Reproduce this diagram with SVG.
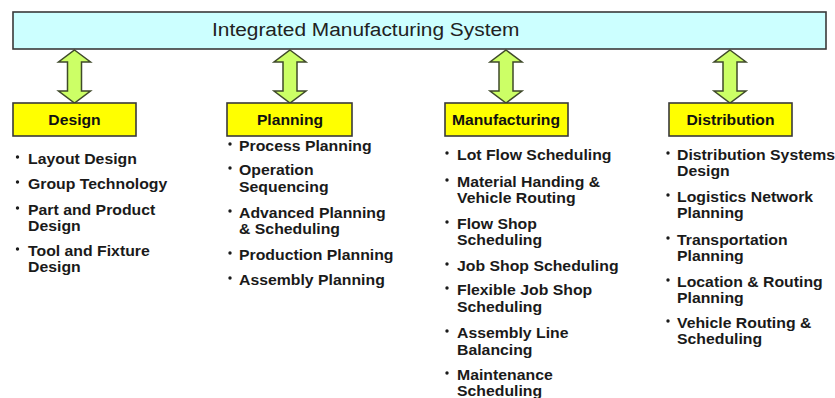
<svg xmlns="http://www.w3.org/2000/svg" width="835" height="398" viewBox="0 0 835 398">
<style>
.bg{fill:#ffffff}
.top{fill:#ccffff;stroke:#3a3a3a;stroke-width:1.6}
.cat{fill:#ffff00;stroke:#3a3a3a;stroke-width:1.6}
.arr{fill:#ccff66;stroke:#3f4a2a;stroke-width:1.5;stroke-linejoin:miter}
.title{font-family:"Liberation Sans",Arial,sans-serif;font-size:18px;fill:#222}
.lbl{font-family:"Liberation Sans",Arial,sans-serif;font-size:14px;font-weight:bold;fill:#111;text-anchor:middle}
.it{font-family:"Liberation Sans",Arial,sans-serif;font-size:14px;font-weight:bold;fill:#1a1a1a}
.bul{fill:#1a1a1a}
</style>
<defs>
<path id="dbl" d="M0,50 L16,62 L7,62 L7,91 L16,91 L0,103 L-16,91 L-7,91 L-7,62 L-16,62 Z"/>
</defs>
<rect class="bg" x="0" y="0" width="835" height="398"/>

<g id="ims">
<rect class="top" x="13" y="12" width="813" height="37"/>
<g transform="translate(212,0) scale(1.16,1)"><text class="title" x="0" y="36.5">Integrated Manufacturing System</text></g>
</g>

<g id="connectors">
<use href="#dbl" class="arr" transform="translate(74.5,0)"/>
<use href="#dbl" class="arr" transform="translate(290,0)"/>
<use href="#dbl" class="arr" transform="translate(506,0)"/>
<use href="#dbl" class="arr" transform="translate(730,0)"/>
</g>

<g id="design">
<rect class="cat" x="13" y="103" width="123" height="33"/>
<g transform="translate(74.5,0) scale(1.12,1)"><text class="lbl" x="0" y="125">Design</text></g>
<g class="bul">
<circle cx="17.5" cy="157" r="1.7"/><circle cx="17.5" cy="182" r="1.7"/><circle cx="17.5" cy="208" r="1.7"/><circle cx="17.5" cy="249" r="1.7"/>
</g>
<g transform="translate(28,0) scale(1.13,1)">
<text class="it" x="0" y="164">Layout Design</text>
<text class="it" x="0" y="189">Group Technology</text>
<text class="it" x="0" y="215">Part and Product</text>
<text class="it" x="0" y="231">Design</text>
<text class="it" x="0" y="256">Tool and Fixture</text>
<text class="it" x="0" y="272">Design</text>
</g>
</g>

<g id="planning">
<rect class="cat" x="227" y="103" width="125" height="33"/>
<g transform="translate(290,0) scale(1.12,1)"><text class="lbl" x="0" y="125">Planning</text></g>
<g class="bul">
<circle cx="230" cy="144" r="1.7"/><circle cx="230" cy="168" r="1.7"/><circle cx="230" cy="211" r="1.7"/><circle cx="230" cy="253" r="1.7"/><circle cx="230" cy="278" r="1.7"/>
</g>
<g transform="translate(239,0) scale(1.13,1)">
<text class="it" x="0" y="151">Process Planning</text>
<text class="it" x="0" y="175">Operation</text>
<text class="it" x="0" y="192">Sequencing</text>
<text class="it" x="0" y="218">Advanced Planning</text>
<text class="it" x="0" y="234">&amp; Scheduling</text>
<text class="it" x="0" y="260">Production Planning</text>
<text class="it" x="0" y="285">Assembly Planning</text>
</g>
</g>

<g id="manufacturing">
<rect class="cat" x="445" y="103" width="123" height="33"/>
<g transform="translate(506,0) scale(1.12,1)"><text class="lbl" x="0" y="125">Manufacturing</text></g>
<g class="bul">
<circle cx="447" cy="153" r="1.7"/><circle cx="447" cy="180" r="1.7"/><circle cx="447" cy="222" r="1.7"/><circle cx="447" cy="264" r="1.7"/><circle cx="447" cy="288" r="1.7"/><circle cx="447" cy="331" r="1.7"/><circle cx="447" cy="373" r="1.7"/>
</g>
<g transform="translate(457,0) scale(1.13,1)">
<text class="it" x="0" y="160">Lot Flow Scheduling</text>
<text class="it" x="0" y="187">Material Handing &amp;</text>
<text class="it" x="0" y="203">Vehicle Routing</text>
<text class="it" x="0" y="229">Flow Shop</text>
<text class="it" x="0" y="245">Scheduling</text>
<text class="it" x="0" y="271">Job Shop Scheduling</text>
<text class="it" x="0" y="295">Flexible Job Shop</text>
<text class="it" x="0" y="312">Scheduling</text>
<text class="it" x="0" y="338">Assembly Line</text>
<text class="it" x="0" y="355">Balancing</text>
<text class="it" x="0" y="380">Maintenance</text>
<text class="it" x="0" y="396">Scheduling</text>
</g>
</g>

<g id="distribution">
<rect class="cat" x="669" y="103" width="123" height="33"/>
<g transform="translate(730.5,0) scale(1.12,1)"><text class="lbl" x="0" y="125">Distribution</text></g>
<g class="bul">
<circle cx="668" cy="153" r="1.7"/><circle cx="668" cy="195" r="1.7"/><circle cx="668" cy="238" r="1.7"/><circle cx="668" cy="280" r="1.7"/><circle cx="668" cy="321" r="1.7"/>
</g>
<g transform="translate(677,0) scale(1.13,1)">
<text class="it" x="0" y="160">Distribution Systems</text>
<text class="it" x="0" y="176">Design</text>
<text class="it" x="0" y="202">Logistics Network</text>
<text class="it" x="0" y="218">Planning</text>
<text class="it" x="0" y="245">Transportation</text>
<text class="it" x="0" y="261">Planning</text>
<text class="it" x="0" y="287">Location &amp; Routing</text>
<text class="it" x="0" y="303">Planning</text>
<text class="it" x="0" y="328">Vehicle Routing &amp;</text>
<text class="it" x="0" y="344">Scheduling</text>
</g>
</g>
</svg>
